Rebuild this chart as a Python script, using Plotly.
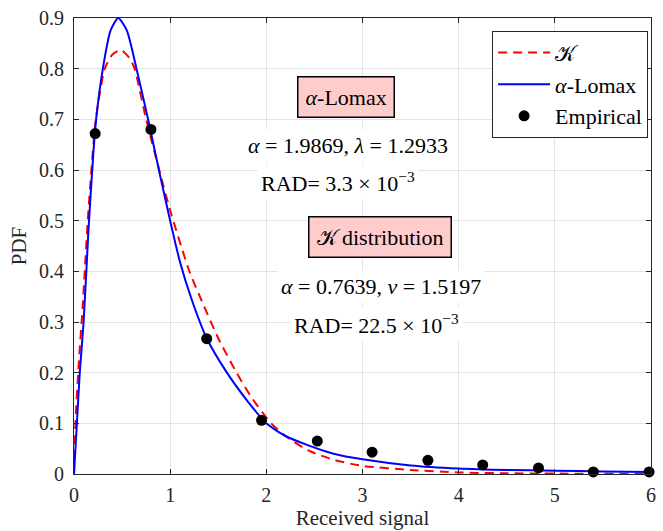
import plotly.graph_objects as go

# Empirical points
emp_x = [0.22, 0.80, 1.38, 1.95, 2.53, 3.10, 3.68, 4.25, 4.83, 5.40, 5.98]
emp_y = [0.672, 0.680, 0.267, 0.106, 0.065, 0.043, 0.027, 0.018, 0.012, 0.004, 0.004]

# alpha-Lomax fitted PDF
lomax_x = [0, 0.03, 0.06, 0.10, 0.15, 0.20, 0.23, 0.30, 0.38, 0.46, 0.55, 0.65, 0.77,
           0.90, 1.00, 1.10, 1.23, 1.38, 1.59, 1.80, 2.00, 2.20, 2.43, 2.70, 3.00,
           3.50, 4.00, 4.50, 5.00, 5.50, 6.00]
lomax_y = [0, 0.10, 0.20, 0.30, 0.48, 0.63, 0.70, 0.80, 0.875, 0.90, 0.875, 0.80, 0.70,
           0.585, 0.50, 0.42, 0.341, 0.268, 0.20, 0.145, 0.10, 0.075, 0.057, 0.040, 0.029,
           0.017, 0.011, 0.008, 0.0065, 0.005, 0.004]

# K distribution fitted PDF
k_x = [0, 0.005, 0.02, 0.05, 0.09, 0.15, 0.227, 0.32, 0.40, 0.49, 0.58, 0.63, 0.75,
       0.90, 1.00, 1.20, 1.33, 1.50, 1.69, 1.85, 2.05, 2.20, 2.43, 2.70, 3.00,
       3.50, 4.00, 4.50, 5.00, 6.00]
k_y = [0, 0.05, 0.12, 0.22, 0.33, 0.52, 0.70, 0.80, 0.828, 0.837, 0.82, 0.80, 0.70,
       0.59, 0.52, 0.40, 0.341, 0.268, 0.20, 0.15, 0.10, 0.075, 0.047, 0.028, 0.016,
       0.008, 0.003, 0.0015, 0.0008, 0.0002]

x_ticks = [0, 1, 2, 3, 4, 5, 6]
y_ticks = [0, 0.1, 0.2, 0.3, 0.4, 0.5, 0.6, 0.7, 0.8, 0.9]

FONT = "Liberation Serif"

fig = go.Figure()
fig.add_trace(go.Scatter(x=k_x, y=k_y, mode="lines", name="𝒦",
                         line=dict(color="#ff0000", width=2, dash="9px,6px", shape="spline", smoothing=0.6)))
fig.add_trace(go.Scatter(x=lomax_x, y=lomax_y, mode="lines", name="<i>α</i>-Lomax",
                         line=dict(color="#0000ff", width=2, shape="spline", smoothing=0.6)))
fig.add_trace(go.Scatter(x=emp_x, y=emp_y, mode="markers", name="Empirical",
                         marker=dict(color="black", size=11), cliponaxis=False))

annots = [
    dict(x=2.83, y=0.745, text="<i>α</i>-Lomax", bgcolor="#ffcccc", bordercolor="black",
         borderwidth=1.5, borderpad=7),
    dict(x=2.85, y=0.648, text="<i>α</i> = 1.9869, <i>λ</i> = 1.2933", bgcolor="white", borderpad=3),
    dict(x=2.74, y=0.576, text="RAD= 3.3 × 10<sup>−3</sup>", bgcolor="white", borderpad=3),
    dict(x=3.18, y=0.467, text="𝒦 distribution", bgcolor="#ffcccc", bordercolor="black",
         borderwidth=1.5, borderpad=7),
    dict(x=3.19, y=0.371, text="<i>α</i> = 0.7639, <i>v</i> = 1.5197", bgcolor="white", borderpad=3),
    dict(x=3.15, y=0.296, text="RAD= 22.5 × 10<sup>−3</sup>", bgcolor="white", borderpad=3),
]
for a in annots:
    fig.add_annotation(xref="x", yref="y", showarrow=False,
                       font=dict(family=FONT, size=22, color="black"), **a)

axis_common = dict(showline=True, linecolor="#262626", linewidth=1, mirror="allticks",
                   ticks="inside", ticklen=5, tickcolor="#262626",
                   showgrid=True, gridcolor="#e3e3e3", gridwidth=1, zeroline=False,
                   tickfont=dict(family=FONT, size=20, color="#262626"))

fig.update_xaxes(range=[0, 6], tickvals=x_ticks, ticktext=[str(v) for v in x_ticks],
                 ticklabelstandoff=3,
                 title=dict(text="Received signal", font=dict(family=FONT, size=21, color="#262626"),
                            standoff=2), **axis_common)
fig.update_yaxes(range=[0, 0.9], tickvals=y_ticks,
                 ticktext=["0"] + [f"{v:.1f}" for v in y_ticks[1:]],
                 ticklabelstandoff=5,
                 title=dict(text="PDF", font=dict(family=FONT, size=21, color="#262626"),
                            standoff=6), **axis_common)

fig.update_layout(
    width=663, height=531,
    margin=dict(l=74, r=7, t=15, b=57),
    plot_bgcolor="white", paper_bgcolor="white",
    showlegend=True,
    legend=dict(x=0.995, y=0.972, xanchor="right", yanchor="top",
                bgcolor="white", bordercolor="#262626", borderwidth=1,
                font=dict(family=FONT, size=22, color="black"),
                itemwidth=52, tracegroupgap=0),
)

fig.write_html("out.html")
